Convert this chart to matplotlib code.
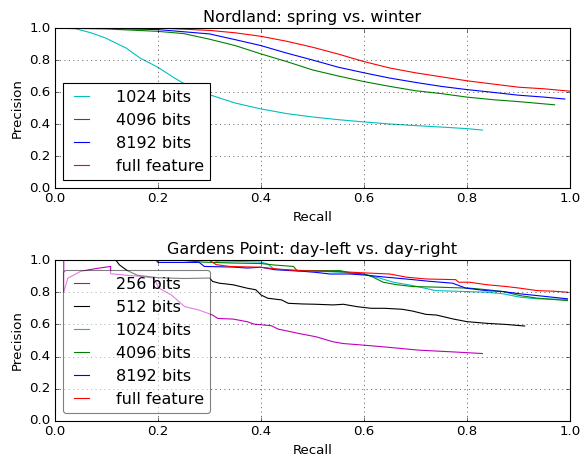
import matplotlib
matplotlib.use("Agg")
import matplotlib.pyplot as plt

plt.style.use('classic')

# ---- Nordland: spring vs. winter ----
nord_1024_r = [0.0, 0.04, 0.07, 0.098, 0.138, 0.165, 0.199, 0.232, 0.26, 0.3, 0.35, 0.4, 0.45, 0.5, 0.55, 0.6, 0.65, 0.7, 0.75, 0.8, 0.83]
nord_1024_p = [1.0, 0.995, 0.97, 0.9375, 0.875, 0.8125, 0.756, 0.6875, 0.635, 0.583, 0.531, 0.494, 0.465, 0.444, 0.427, 0.413, 0.40, 0.39, 0.381, 0.371, 0.362]

nord_4096_r = [0.0, 0.1, 0.2, 0.25, 0.3, 0.35, 0.4, 0.45, 0.5, 0.55, 0.6, 0.65, 0.7, 0.75, 0.8, 0.85, 0.9, 0.97]
nord_4096_p = [1.0, 0.994, 0.979, 0.965, 0.93, 0.89, 0.838, 0.79, 0.738, 0.70, 0.665, 0.635, 0.608, 0.59, 0.568, 0.552, 0.54, 0.52]

nord_8192_r = [0.0, 0.1, 0.2, 0.3, 0.35, 0.4, 0.45, 0.5, 0.55, 0.6, 0.65, 0.7, 0.75, 0.8, 0.85, 0.9, 0.95, 0.99]
nord_8192_p = [1.0, 0.998, 0.99, 0.963, 0.927, 0.89, 0.843, 0.80, 0.755, 0.72, 0.687, 0.66, 0.635, 0.615, 0.598, 0.58, 0.568, 0.556]

nord_full_r = [0.0, 0.2, 0.3, 0.35, 0.4, 0.45, 0.5, 0.55, 0.6, 0.65, 0.7, 0.75, 0.8, 0.85, 0.9, 0.95, 1.0]
nord_full_p = [1.0, 1.0, 0.985, 0.97, 0.948, 0.917, 0.88, 0.837, 0.79, 0.75, 0.72, 0.695, 0.67, 0.65, 0.63, 0.62, 0.605]

# ---- Gardens Point: day-left vs. day-right ----
gp_256_r = [0.017, 0.017, 0.025, 0.05, 0.078, 0.108, 0.108, 0.14, 0.172, 0.192, 0.202, 0.226, 0.252, 0.279, 0.306, 0.316, 0.346, 0.373, 0.386, 0.42, 0.433, 0.473, 0.507, 0.54, 0.56, 0.6, 0.64, 0.707, 0.774, 0.83]
gp_256_p = [1.0, 0.8, 0.887, 0.93, 0.946, 0.96, 0.915, 0.905, 0.897, 0.887, 0.825, 0.783, 0.71, 0.69, 0.658, 0.637, 0.633, 0.617, 0.602, 0.592, 0.571, 0.544, 0.523, 0.492, 0.481, 0.471, 0.46, 0.44, 0.429, 0.419]

gp_512_r = [0.118, 0.125, 0.14, 0.16, 0.2, 0.25, 0.3, 0.306, 0.319, 0.346, 0.373, 0.39, 0.4, 0.413, 0.44, 0.453, 0.48, 0.507, 0.54, 0.56, 0.587, 0.614, 0.64, 0.674, 0.694, 0.72, 0.741, 0.774, 0.8, 0.841, 0.875, 0.912]
gp_512_p = [1.0, 0.97, 0.935, 0.905, 0.89, 0.885, 0.888, 0.867, 0.856, 0.846, 0.825, 0.815, 0.783, 0.7625, 0.752, 0.731, 0.727, 0.725, 0.721, 0.725, 0.71, 0.7, 0.7, 0.694, 0.683, 0.6625, 0.658, 0.633, 0.617, 0.606, 0.6, 0.59]

gp_1024_r = [0.306, 0.319, 0.36, 0.4, 0.413, 0.425, 0.45, 0.554, 0.6, 0.631, 0.657, 0.695, 0.739, 0.798, 0.837, 0.87, 0.903, 0.936, 0.995]
gp_1024_p = [1.0, 0.987, 0.99, 0.987, 0.975, 0.944, 0.94, 0.924, 0.913, 0.887, 0.862, 0.841, 0.81, 0.804, 0.8, 0.79, 0.769, 0.759, 0.755]

gp_4096_r = [0.239, 0.286, 0.346, 0.4, 0.425, 0.463, 0.47, 0.554, 0.573, 0.6, 0.618, 0.637, 0.663, 0.695, 0.747, 0.805, 0.837, 0.87, 0.903, 0.936, 0.995]
gp_4096_p = [1.0, 0.987, 0.981, 0.978, 0.969, 0.96, 0.934, 0.934, 0.92, 0.913, 0.893, 0.862, 0.847, 0.835, 0.831, 0.825, 0.816, 0.804, 0.779, 0.763, 0.748]

gp_8192_r = [0.196, 0.2, 0.28, 0.29, 0.346, 0.373, 0.4, 0.426, 0.457, 0.48, 0.507, 0.534, 0.573, 0.6, 0.644, 0.695, 0.726, 0.772, 0.798, 0.837, 0.87, 0.903, 0.936, 0.995]
gp_8192_p = [1.0, 0.985, 0.985, 0.96, 0.956, 0.95, 0.955, 0.94, 0.934, 0.93, 0.923, 0.913, 0.913, 0.907, 0.893, 0.878, 0.868, 0.856, 0.825, 0.81, 0.804, 0.79, 0.779, 0.759]

gp_full_r = [0.299, 0.313, 0.339, 0.4, 0.431, 0.47, 0.554, 0.6, 0.65, 0.683, 0.721, 0.778, 0.784, 0.805, 0.837, 0.877, 0.903, 0.936, 0.969, 0.995]
gp_full_p = [1.0, 0.971, 0.96, 0.955, 0.944, 0.934, 0.928, 0.92, 0.913, 0.893, 0.882, 0.878, 0.862, 0.862, 0.847, 0.835, 0.825, 0.81, 0.806, 0.8]

titles = ["Nordland: spring vs. winter", "Gardens Point: day-left vs. day-right"]

W, H = 584, 462
fig = plt.figure(figsize=(W / 80, H / 80), dpi=80)
fig.patch.set_facecolor('white')
ax1 = fig.add_axes([55 / W, 1 - 188 / H, 515 / W, 160 / H])
ax2 = fig.add_axes([55 / W, 1 - 421 / H, 515 / W, 161 / H])

ax1.plot(nord_1024_r, nord_1024_p, color='c', label='1024 bits')
ax1.plot(nord_4096_r, nord_4096_p, color='g', label='4096 bits')
ax1.plot(nord_8192_r, nord_8192_p, color='b', label='8192 bits')
ax1.plot(nord_full_r, nord_full_p, color='r', label='full feature')

ax2.plot(gp_256_r, gp_256_p, color='m', label='256 bits')
ax2.plot(gp_512_r, gp_512_p, color='k', label='512 bits')
ax2.plot(gp_1024_r, gp_1024_p, color='c', label='1024 bits')
ax2.plot(gp_4096_r, gp_4096_p, color='g', label='4096 bits')
ax2.plot(gp_8192_r, gp_8192_p, color='b', label='8192 bits')
ax2.plot(gp_full_r, gp_full_p, color='r', label='full feature')

for ax, t in zip([ax1, ax2], titles):
    ax.set_xlim(0, 1)
    ax.set_ylim(0, 1)
    ax.set_xticks([0.0, 0.2, 0.4, 0.6, 0.8, 1.0])
    ax.set_yticks([0.0, 0.2, 0.4, 0.6, 0.8, 1.0])
    ax.grid(True)
    ax.set_title(t, fontsize=14.4)
    ax.set_xlabel('Recall', fontsize=12)
    ax.set_ylabel('Precision', fontsize=12)
    ax.tick_params(labelsize=12)

ax1.legend(loc='lower left', fontsize=14.4, handlelength=1.5, handletextpad=1.4,
           fancybox=False)
ax2.legend(loc='lower left', fontsize=14.4, handlelength=1.5, handletextpad=1.4,
           fancybox=True, framealpha=0.5)

fig.savefig('out.png', dpi=80, facecolor='white')
